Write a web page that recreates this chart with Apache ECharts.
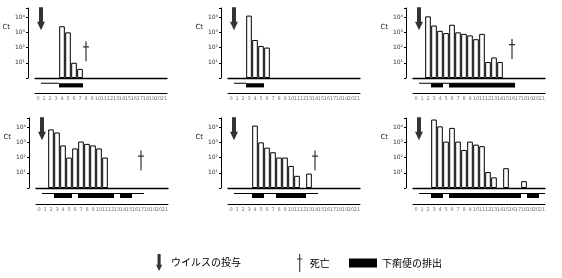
<!DOCTYPE html>
<html>
<head>
<meta charset="utf-8">
<script src="https://cdn.jsdelivr.net/npm/echarts@6/dist/echarts.min.js"></script>
<style>
  html, body { margin: 0; background: #fff; }
  #chart { width: 562px; height: 278px; }
</style>
</head>
<body>
<div id="chart"></div>
<script>
// days after inoculation (x categories)
const days = ['0', '1', '2', '3', '4', '5', '6', '7', '8', '9', '10',
  '11', '12', '13', '14', '15', '16', '17', '18', '19', '20', '21'];
const yTickLabels = ['', '10¹', '10²', '10³', '10⁴'];

// virus titer (log) per day, one array per animal
const titerA = [null, null, null, null, 3.4, 3.0, 1.0, 0.6, null, null, null,
  null, null, null, null, null, null, null, null, null, null, null];
const titerB = [null, null, null, 4.1, 2.5, 2.1, 2.0, null, null, null, null,
  null, null, null, null, null, null, null, null, null, null, null];
const titerC = [null, null, 4.05, 3.45, 3.1, 2.95, 3.5, 3.0, 2.9, 2.8, 2.55,
  2.9, 1.05, 1.35, 1.05, null, null, null, null, null, null, null];
const titerD = [null, null, 3.85, 3.65, 2.8, 2.0, 2.6, 3.05, 2.9, 2.8, 2.6,
  2.0, null, null, null, null, null, null, null, null, null, null];
const titerE = [null, null, null, null, 4.1, 3.0, 2.65, 2.35, 2.0, 2.0, 1.45,
  0.8, null, 0.95, null, null, null, null, null, null, null, null];
const titerF = [null, null, null, 4.5, 4.05, 3.05, 3.95, 3.05, 2.5, 3.05, 2.85,
  2.75, 1.05, 0.7, null, 1.3, null, null, 0.45, null, null, null];

// day of virus dose, day and level of death
const doseDay = [1, 1, 1, 1, 1, 1];
const deathDay = [8, null, 16, 17, 14, null];
const deathLevel = [1.75, null, 1.9, 1.8, 1.8, null];

// diarrhoea periods [first day, last day]
const diarrheaA = [[4, 7]];
const diarrheaB = [[3, 5]];
const diarrheaC = [[3, 4], [6, 16]];
const diarrheaD = [[3, 5], [7, 12], [14, 15]];
const diarrheaE = [[4, 5], [8, 12]];
const diarrheaF = [[3, 4], [6, 17], [19, 20]];

// observation periods
const watchA = [[1, 3]];
const watchB = [[1, 2]];
const watchC = [[1, 16]];
const watchD = [[1, 17]];
const watchE = [[1, 14]];
const watchF = [[1, 21]];

const titers = [titerA, titerB, titerC, titerD, titerE, titerF];
const diarrhea = [diarrheaA, diarrheaB, diarrheaC, diarrheaD, diarrheaE, diarrheaF];
const watch = [watchA, watchB, watchC, watchD, watchE, watchF];

const arrowPath = 'path://M2,0 H6 V14 H8 L4,22 L0,14 H2 Z';
const daggerPath = 'path://M2.4,0 H3.6 V20 H2.4 Z M0,5 H6 V6.2 H0 Z';
const blockPath = 'path://M0,0 H28 V9 H0 Z';

// panel placement
const panels = [
  { left: 35, top: 8, stripTop: 80, stripH: 13 },
  { left: 228, top: 8, stripTop: 80, stripH: 13 },
  { left: 413, top: 8, stripTop: 80, stripH: 13 },
  { left: 36, top: 118, stripTop: 190, stripH: 14 },
  { left: 228, top: 118, stripTop: 190, stripH: 14 },
  { left: 413, top: 118, stripTop: 190, stripH: 14 }
];

function stripItem(thin) {
  return function (params, api) {
    const s = api.value(0);
    const e = api.value(1);
    const band = api.size([1, 0])[0];
    const a = api.coord([s, 0.75]);
    const b = api.coord([e, 0.43]);
    const x0 = a[0] - band / 2;
    const x1 = b[0] + band / 2;
    if (thin) {
      return {
        type: 'line',
        shape: { x1: x0, y1: a[1], x2: x1, y2: a[1] },
        style: { stroke: '#000', lineWidth: 1 }
      };
    }
    return {
      type: 'rect',
      shape: { x: x0, y: a[1], width: x1 - x0, height: b[1] - a[1] },
      style: { fill: '#000' }
    };
  };
}

const grid = [];
const xAxis = [];
const yAxis = [];
const series = [];

panels.forEach((p, k) => {
  const gMain = k * 2;
  const gStrip = k * 2 + 1;
  grid.push({ left: p.left, top: p.top, width: 132, height: 70 });
  grid.push({ left: p.left, top: p.stripTop, width: 132, height: p.stripH });

  xAxis.push({
    type: 'category', gridIndex: gMain, data: days,
    axisLine: { lineStyle: { color: '#000', width: 1.3 } },
    axisTick: { show: false }, axisLabel: { show: false }
  });
  xAxis.push({
    type: 'category', gridIndex: gStrip, data: days,
    axisLine: { lineStyle: { color: '#000', width: 1 } },
    axisTick: { show: false },
    axisLabel: { interval: 0, fontSize: 5, color: '#777', margin: 3 }
  });

  yAxis.push({
    type: 'value', gridIndex: gMain, min: 0, max: 4.6, interval: 1, offset: 7,
    name: 'Ct', nameLocation: 'middle', nameRotate: 0, nameGap: 15,
    nameTextStyle: {
      fontSize: 7, color: '#222', align: 'right', verticalAlign: 'bottom',
      padding: [0, 0, 12, 0]
    },
    axisLine: { show: true, lineStyle: { color: '#000', width: 1 } },
    axisTick: { show: true, length: 2, lineStyle: { color: '#000' } },
    splitLine: { show: false },
    axisLabel: {
      fontSize: 6, color: '#333', margin: 3,
      formatter: v => yTickLabels[v] || ''
    }
  });
  yAxis.push({
    type: 'value', gridIndex: gStrip, min: 0, max: 1, show: false,
    splitLine: { show: false }
  });

  series.push({
    type: 'bar', name: 'titer', xAxisIndex: gMain, yAxisIndex: gMain,
    data: titers[k], barCategoryGap: '6%', silent: true,
    itemStyle: { color: '#fff', borderColor: '#000', borderWidth: 1 }
  });
  series.push({
    type: 'scatter', name: 'ウイルスの投与', xAxisIndex: gMain, yAxisIndex: gMain,
    data: [[doseDay[k], 3.9]], symbol: arrowPath, symbolSize: [8, 23],
    symbolOffset: [-3, 0], itemStyle: { color: '#000' }, silent: true, z: 5
  });
  if (deathDay[k] !== null) {
    series.push({
      type: 'scatter', name: '死亡', xAxisIndex: gMain, yAxisIndex: gMain,
      data: [[deathDay[k], deathLevel[k]]], symbol: daggerPath, symbolSize: [6, 20],
      itemStyle: { color: '#000' }, silent: true, z: 5
    });
  }
  series.push({
    type: 'custom', name: 'obs', xAxisIndex: gStrip, yAxisIndex: gStrip,
    data: watch[k], encode: { x: [0, 1] }, renderItem: stripItem(true), silent: true
  });
  series.push({
    type: 'custom', name: '下痢便の排出', xAxisIndex: gStrip, yAxisIndex: gStrip,
    data: diarrhea[k], encode: { x: [0, 1] }, renderItem: stripItem(false),
    itemStyle: { color: '#000' }, silent: true
  });
});

const legendText = { color: '#000', fontSize: 10, fontFamily: 'Noto Sans CJK JP' };

const option = {
  animation: false,
  backgroundColor: '#fff',
  textStyle: { fontFamily: 'DejaVu Sans' },
  grid: grid,
  xAxis: xAxis,
  yAxis: yAxis,
  legend: [
    {
      left: 151, top: 249, itemWidth: 14, itemHeight: 17, selectedMode: false,
      textStyle: legendText,
      data: [{ name: 'ウイルスの投与', icon: arrowPath }]
    },
    {
      left: 292, top: 249, itemWidth: 10, itemHeight: 18, selectedMode: false,
      textStyle: legendText,
      data: [{ name: '死亡', icon: daggerPath }]
    },
    {
      left: 344, top: 253, itemWidth: 28, itemHeight: 9, selectedMode: false,
      textStyle: legendText,
      data: [{ name: '下痢便の排出', icon: blockPath }]
    }
  ],
  series: series
};

const chart = echarts.init(document.getElementById('chart'));
chart.setOption(option);
</script>
</body>
</html>
